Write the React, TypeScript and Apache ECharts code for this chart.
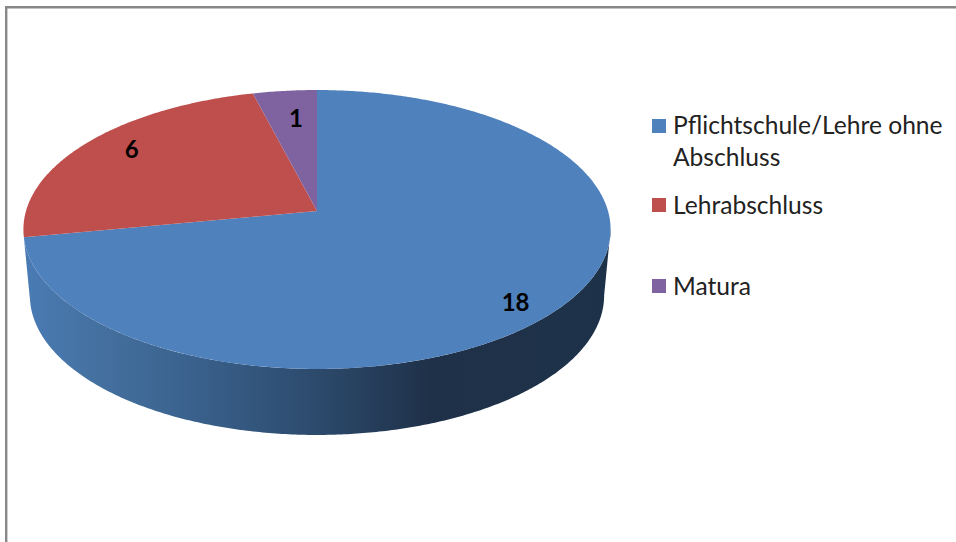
import React, { useEffect, useRef } from "react";
import * as echarts from "echarts";

const categories = ["Pflichtschule/Lehre ohne\nAbschluss", "Lehrabschluss", "Matura"];
const values = [18, 6, 1];
const colors = ["#4F81BD", "#BE4F4C", "#7F62A0"];
const legendY = [119, 198, 279];
const legendTextY = [124, 204, 285];
const labelNudge = [[1, 14], [5, -6], [6, 7]];

const CX = 317;
const CY = 211;
const RX = 291;
const RY = 137;
const K = -0.1326;
const DEPTH = 66;
const BOTTOM_SCALE = 0.978;
const FONT = "Lato, Carlito, sans-serif";

const total = values.reduce((a, b) => a + b, 0);

// Perspective projection of a point of the unit disc; theta runs clockwise from 12 o'clock.
function project(theta: number, r: number, bottom = false): number[] {
  const u = Math.sin(theta) * r;
  const v = -Math.cos(theta) * r;
  const den = 1 + K * v;
  const x = (RX * u) / den;
  const y = CY + (RY * v) / den;
  return bottom ? [CX + x * BOTTOM_SCALE, y + DEPTH] : [CX + x, y];
}

function arc(a0: number, a1: number, bottom = false): number[][] {
  const n = Math.max(2, Math.ceil(Math.abs(a1 - a0) / 0.01));
  const pts: number[][] = [];
  for (let i = 0; i <= n; i++) pts.push(project(a0 + ((a1 - a0) * i) / n, 1, bottom));
  return pts;
}

function renderSlice(params: any, api: any) {
  const i = params.dataIndex;
  const before = values.slice(0, i).reduce((a, b) => a + b, 0);
  const value = api.value(0);
  const a0 = (before / total) * Math.PI * 2;
  const a1 = ((before + value) / total) * Math.PI * 2;
  const children: any[] = [];
  // The near side is visible only for a slice that crosses 6 o'clock.
  if (a0 < Math.PI && a1 > Math.PI) {
    // The silhouette starts where the projected disc is widest.
    const start = Math.max(a0, Math.acos(K));
    const wall = [...arc(start, a1), ...arc(a1, start, true)];
    children.push({
      type: "polygon",
      shape: { points: wall },
      style: {
        fill: {
          type: "linear", x: 0, y: 0, x2: 1, y2: 0,
          colorStops: [
            { offset: 0, color: "#4A7BB4" },
            { offset: 0.13, color: "#44709F" },
            { offset: 0.3, color: "#39608B" },
            { offset: 0.5, color: "#2C4A6C" },
            { offset: 0.69, color: "#1F3149" },
            { offset: 1, color: "#1D3249" },
          ],
        },
      },
    });
  }
  const top = [[CX, CY], ...arc(a0, a1)];
  children.push({ type: "polygon", shape: { points: top }, style: { fill: colors[i] } });
  const p = project((a0 + a1) / 2, 0.82);
  children.push({
    type: "text",
    x: p[0] + labelNudge[i][0],
    y: p[1] + labelNudge[i][1],
    style: {
      text: String(value),
      font: `bold 24px ${FONT}`,
      fill: "#000",
      align: "center",
      verticalAlign: "middle",
    },
  });
  return { type: "group", children };
}

export default function App() {
  const ref = useRef<HTMLDivElement>(null);
  useEffect(() => {
    document.body.style.margin = "0";
    const chart = echarts.init(ref.current!, null, { renderer: "svg" });
    const legendEls: any[] = [];
    categories.forEach((c, i) => {
      legendEls.push({
        type: "rect",
        shape: { x: 652, y: legendY[i], width: 14, height: 14 },
        style: { fill: colors[i] },
      });
      legendEls.push({
        type: "text",
        x: 673,
        y: legendTextY[i] - 16,
        style: { text: c, font: `24.6px ${FONT}`, lineHeight: 32, fill: "#222", align: "left", verticalAlign: "top" },
      });
    });
    chart.setOption({
      animation: false,
      backgroundColor: "#fff",
      graphic: [
        {
          type: "polyline",
          shape: { points: [[6.2, 542], [6.2, 7.2], [956, 7.2]] },
          style: { stroke: "#888888", lineWidth: 2.4, fill: "none" },
        },
        ...legendEls,
      ],
      series: [
        {
          type: "custom",
          coordinateSystem: "none",
          silent: true,
          data: values.map((v) => [v]),
          renderItem: renderSlice,
        },
      ],
    });
    return () => chart.dispose();
  }, []);
  return <div ref={ref} style={{ width: 956, height: 542 }} />;
}
